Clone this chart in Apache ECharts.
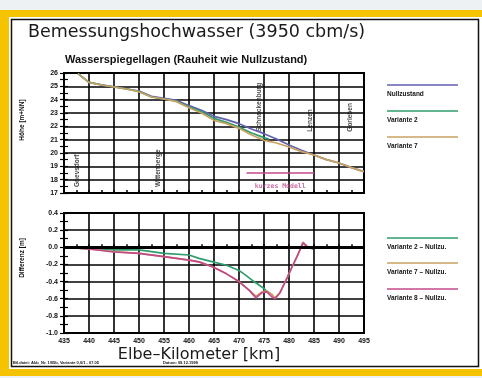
<!DOCTYPE html>
<html>
<head>
<meta charset="utf-8">
<script src="https://cdn.jsdelivr.net/npm/echarts@6/dist/echarts.min.js"></script>
<style>
  html, body { margin: 0; padding: 0; background: #eef1f4; }
  #chart { width: 482px; height: 378px; }
</style>
</head>
<body>
<div id="chart"></div>
<script>
// Wasserspiegellagen (m+NN) over Elbe-km
const wspKm = [437.8, 440, 442.5, 445, 447.5, 450, 452.5, 455, 457.5, 460, 462.5, 465, 467.5, 470, 472.5, 475, 477.5, 480, 482.5, 485, 487.5, 490, 492.5, 495];
const nullzustand = [25.95, 25.3, 25.12, 24.97, 24.82, 24.65, 24.25, 24.1, 23.95, 23.55, 23.2, 22.75, 22.5, 22.2, 21.8, 21.45, 21.05, 20.6, 20.2, 19.85, 19.5, 19.25, 18.9, 18.6];
const variante7 = [25.95, 25.3, 25.1, 24.95, 24.8, 24.6, 24.2, 24.05, 23.85, 23.4, 23.0, 22.45, 22.2, 21.85, 21.35, 20.95, 20.75, 20.45, 20.1, 19.85, 19.5, 19.25, 18.9, 18.6];
const variante2Km = [437.8, 440, 442.5, 445, 447.5, 450, 452.5, 455, 457.5, 460, 462.5, 465, 467.5, 470, 472.5, 475, 476];
const variante2 = [25.95, 25.3, 25.1, 24.95, 24.8, 24.6, 24.2, 24.05, 23.88, 23.45, 23.1, 22.6, 22.3, 21.95, 21.5, 21.15, 21.05];

// Differenz zum Nullzustand (m)
const diffKm = [437.8, 440, 445, 450, 455, 460, 462, 464.8, 467.5, 470, 472, 473.4, 474.6, 475.6, 476.6, 477.2, 478.2, 479.6, 480.6, 481.6, 482.8, 483.8, 484.8];
const diff7 = [-0.01, -0.02, -0.05, -0.07, -0.11, -0.15, -0.17, -0.23, -0.31, -0.40, -0.50, -0.57, -0.52, -0.51, -0.55, -0.59, -0.53, -0.36, -0.23, -0.11, 0.06, 0.0, -0.02];
const diff8 = [-0.01, -0.02, -0.055, -0.07, -0.11, -0.15, -0.17, -0.23, -0.31, -0.40, -0.50, -0.59, -0.53, -0.52, -0.58, -0.60, -0.53, -0.36, -0.23, -0.11, 0.05, 0.0, -0.02];
const diff2Km = [437.8, 445, 450, 455, 460, 462, 464.8, 467.5, 470, 471, 473, 475, 475.6];
const diff2 = [-0.01, -0.03, -0.03, -0.07, -0.09, -0.13, -0.17, -0.21, -0.27, -0.31, -0.40, -0.48, -0.52];

// Orte und "kurzes Modell"
const stationKm = [437.6, 453.8, 474.0, 484.2, 492.2];
const stationNames = ['Gnevsdorf', 'Wittenberge', 'Schnackenburg', 'Lenzen', 'Gorleben'];
const stationBase = [17.45, 17.45, 21.6, 21.6, 21.6];
const kurzKm = [471.5, 485];
const kurzLevel = 18.5;

const zip = (xs, ys) => xs.map((x, i) => [x, ys[i]]);

const C_NULL = '#6060b0';
const C_V2 = '#2f9c6c';
const C_V7 = '#c9a262';
const C_V8 = '#c2488a';
const BOLD = 'Liberation Sans';

const chart = echarts.init(document.getElementById('chart'), null, { renderer: 'canvas' });

function xAxisFor(gridIndex, labels) {
  return {
    gridIndex, type: 'value', min: 435, max: 495, interval: 5,
    axisLine: { lineStyle: { color: '#000', width: 2 } },
    axisTick: { show: true, inside: true, length: 3, lineStyle: { color: '#000', width: 1.5 } },
    minorTick: { show: true, splitNumber: 2, length: 3, lineStyle: { color: '#000', width: 1.5 } },
    axisLabel: { show: labels, color: '#111', fontFamily: BOLD, fontWeight: 'bold', fontSize: 7, margin: 5 },
    splitLine: { show: true, lineStyle: { color: '#000', width: 1.6 } }
  };
}

function yAxesFor(gridIndex, min, max, interval, digits) {
  const base = {
    gridIndex, type: 'value', min, max, interval, position: 'left',
    axisLine: { show: true, lineStyle: { color: '#000', width: 2 } },
    minorTick: { show: true, splitNumber: 2, length: 4, lineStyle: { color: '#000', width: 1.2 } }
  };
  return [
    Object.assign({}, base, {
      axisTick: { show: true, length: 4, lineStyle: { color: '#000', width: 1.2 } },
      axisLabel: {
        color: '#111', fontFamily: BOLD, fontWeight: 'bold', fontSize: 7, margin: 6,
        formatter: v => v.toFixed(digits)
      },
      splitLine: { show: true, lineStyle: { color: '#000', width: 1.6 } }
    }),
    Object.assign({}, base, {
      axisTick: { show: true, inside: true, length: 4, lineStyle: { color: '#000', width: 1.2 } },
      axisLabel: { show: false },
      splitLine: { show: false }
    })
  ];
}

function lineSeries(name, data, color, xi, yi) {
  return {
    name, type: 'line', data, xAxisIndex: xi, yAxisIndex: yi,
    showSymbol: false, smooth: false, animation: false,
    lineStyle: { color, width: 1.7 }, itemStyle: { color }
  };
}

const legendTop = [
  ['Nullzustand', C_NULL, 85],
  ['Variante 2', C_V2, 111],
  ['Variante 7', C_V7, 137]
];
const legendBottom = [
  ['Variante 2 \u2013 Nullzu.', C_V2, 238],
  ['Variante 7 \u2013 Nullzu.', C_V7, 263],
  ['Variante 8 \u2013 Nullzu.', C_V8, 289]
];

const legendGraphics = [];
legendTop.concat(legendBottom).forEach(([label, color, y]) => {
  legendGraphics.push({
    type: 'line', shape: { x1: 387, y1: y, x2: 458, y2: y },
    style: { stroke: color, lineWidth: 1.6 }
  });
  legendGraphics.push({
    type: 'text', x: 387, y: y + 9,
    style: { text: label, fill: '#111', font: 'bold 6.5px "Liberation Sans"', textVerticalAlign: 'middle' }
  });
});

chart.setOption({
  animation: false,
  graphic: [
    { type: 'rect', z: -100, shape: { x: 0, y: 10, width: 482, height: 366 }, style: { fill: '#f5c300' } },
    { type: 'rect', z: -99, shape: { x: 9, y: 17, width: 473, height: 352 }, style: { fill: '#ffffff' } },
    { type: 'rect', z: -98, shape: { x: 11.5, y: 19.5, width: 467, height: 347 }, style: { fill: 'none', stroke: '#111', lineWidth: 1.5 } },
    {
      type: 'text', x: 28, y: 32,
      style: { text: 'Bemessungshochwasser (3950 cbm/s)', fill: '#1a1a1a', font: '17.5px "DejaVu Sans"', textVerticalAlign: 'middle' }
    },
    {
      type: 'text', x: 65, y: 60,
      style: { text: 'Wasserspiegellagen (Rauheit wie Nullzustand)', fill: '#111', font: 'bold 11px "Liberation Sans"', textVerticalAlign: 'middle' }
    },
    {
      type: 'text', x: 22, y: 120, rotation: Math.PI / 2,
      style: { text: 'H\u00f6he [m+NN]', fill: '#111', font: 'bold 6.5px "Liberation Sans"', textAlign: 'center', textVerticalAlign: 'middle' }
    },
    {
      type: 'text', x: 22, y: 258, rotation: Math.PI / 2,
      style: { text: 'Differenz [m]', fill: '#111', font: 'bold 6.5px "Liberation Sans"', textAlign: 'center', textVerticalAlign: 'middle' }
    },
    {
      type: 'text', x: 199, y: 355,
      style: { text: 'Elbe\u2013Kilometer [km]', fill: '#1a1a1a', font: '16px "DejaVu Sans"', textAlign: 'center', textVerticalAlign: 'middle' }
    },
    {
      type: 'text', x: 13, y: 363,
      style: { text: 'Bil.datei: Abb_Nr. 1/95b, Variante 0,0/1 - 07.05', fill: '#111', font: 'bold 4px "Liberation Sans"', textVerticalAlign: 'middle' }
    },
    {
      type: 'text', x: 163, y: 363,
      style: { text: 'Datum: 09.12.1999', fill: '#111', font: 'bold 4px "Liberation Sans"', textVerticalAlign: 'middle' }
    }
  ].concat(legendGraphics),
  grid: [
    { left: 64, top: 73, width: 300, height: 120, show: true, borderColor: '#000', borderWidth: 2 },
    { left: 64, top: 213, width: 300, height: 120, show: true, borderColor: '#000', borderWidth: 2 }
  ],
  xAxis: [xAxisFor(0, false), xAxisFor(1, true)],
  yAxis: yAxesFor(0, 17, 26, 1, 0).concat(yAxesFor(1, -1.0, 0.4, 0.2, 1)),
  series: [
    lineSeries('Nullzustand', zip(wspKm, nullzustand), C_NULL, 0, 0),
    lineSeries('Variante 2', zip(variante2Km, variante2), C_V2, 0, 0),
    lineSeries('Variante 7', zip(wspKm, variante7), C_V7, 0, 0),
    Object.assign(lineSeries('kurzes Modell', kurzKm.map(k => [k, kurzLevel]), C_V8, 0, 0), {
      lineStyle: { color: C_V8, width: 1.4 }
    }),
    {
      name: 'kurzes Modell Text', type: 'scatter', xAxisIndex: 0, yAxisIndex: 0,
      symbolSize: 0, animation: false, silent: true,
      data: [[(kurzKm[0] + kurzKm[1]) / 2, kurzLevel - 1.0]],
      label: {
        show: true, position: 'inside', formatter: 'kurzes Modell',
        color: C_V8, fontFamily: 'DejaVu Sans Mono', fontSize: 6.5, fontWeight: 'bold'
      }
    },
    {
      name: 'Orte', type: 'scatter', xAxisIndex: 0, yAxisIndex: 0,
      symbolSize: 0, animation: false, silent: true,
      data: stationKm.map((k, i) => ({ value: [k, stationBase[i]], name: stationNames[i] })),
      label: {
        show: true, position: 'inside', rotate: 90, align: 'left', verticalAlign: 'middle',
        formatter: p => p.name, color: '#111', fontFamily: BOLD, fontWeight: 'bold', fontSize: 6.5
      }
    },
    Object.assign(lineSeries('Variante 2 - Nullzu.', zip(diff2Km, diff2), C_V2, 1, 2), {
      markLine: {
        silent: true, symbol: 'none', animation: false,
        label: { show: false },
        lineStyle: { color: '#000', width: 3, type: 'solid' },
        data: [{ yAxis: 0 }]
      }
    }),
    lineSeries('Variante 7 - Nullzu.', zip(diffKm, diff7), C_V7, 1, 2),
    lineSeries('Variante 8 - Nullzu.', zip(diffKm, diff8), C_V8, 1, 2)
  ]
});
</script>
</body>
</html>
